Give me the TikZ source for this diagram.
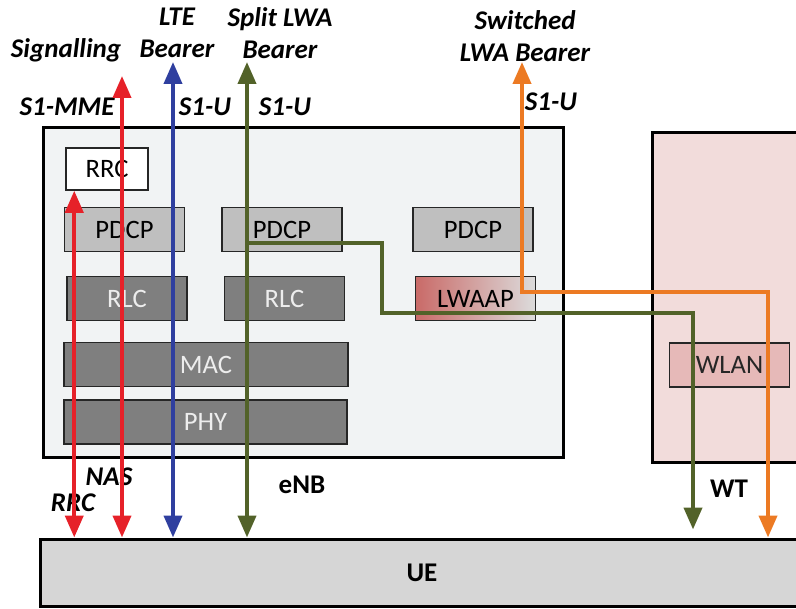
\documentclass[tikz,border=0pt]{standalone}
\usepackage{fontspec}
\setmainfont{Carlito}
\usetikzlibrary{arrows.meta,positioning}
\definecolor{sigred}{HTML}{E62129}
\definecolor{lteblue}{HTML}{2F3F9F}
\definecolor{lwagreen}{HTML}{526229}
\definecolor{lwaorange}{HTML}{EC7A23}
\definecolor{enbfill}{HTML}{F1F3F4}
\definecolor{wtfill}{HTML}{F2DCDB}
\definecolor{uefill}{HTML}{D6D6D6}
\definecolor{lightlayer}{HTML}{BFBFBF}
\definecolor{darklayer}{HTML}{7F7F7F}
\definecolor{wlanfill}{HTML}{E6B9B8}
\definecolor{lwaapred}{HTML}{C0504D}
\definecolor{boxline}{HTML}{262626}
\tikzset{
  >={Triangle[length=11pt,width=9pt]},
  flow/.style={line width=2pt},
  station/.style={draw=black,line width=1.5pt,inner sep=0pt},
  layer/.style={draw=boxline,line width=0.75pt,inner sep=0pt,
    minimum width=60pt,minimum height=22pt,font=\fontsize{13.3}{16}\selectfont},
  lightbox/.style={layer,fill=lightlayer,text=black},
  darkbox/.style={layer,fill=darklayer,text=white!93!black},
  bearer/.style={font=\fontsize{13.5}{16}\selectfont\bfseries\itshape,
    align=center,inner sep=0pt},
  stationlabel/.style={font=\fontsize{13.5}{16}\selectfont\bfseries,inner sep=0pt}
}
\begin{document}
\begin{tikzpicture}[x=0.5pt,y=-0.5pt]
  \useasboundingbox (0,0) rectangle (796,609);
  % network elements
  \node[station,fill=enbfill,minimum width=260pt,minimum height=164.5pt] (enb) at (303,292.5) {};
  \node[station,fill=wtfill,minimum width=84pt,minimum height=164.5pt] (wt) at (736,297.5) {};
  \node[station,fill=uefill,minimum width=382pt,minimum height=33.5pt,
    font=\fontsize{13.5}{16}\selectfont\bfseries] (ue) at (422,572.5) {UE};
  % protocol layers
  \node[layer,fill=white,minimum width=41pt,minimum height=21pt] (rrc) at (107,169) {RRC};
  \node[lightbox] (pdcpA) at (124.5,229.5) {PDCP};
  \node[lightbox] (pdcpB) at (282,229.5) {PDCP};
  \node[lightbox] (pdcpC) at (473,229.5) {PDCP};
  \node[darkbox] (rlcA) at (127,298.5) {RLC};
  \node[darkbox] (rlcB) at (284.5,298.5) {RLC};
  \node[layer,left color=lwaapred!85,right color=lightlayer!55] (lwaap) at (475.5,298.5) {LWAAP};
  \node[darkbox,minimum width=142pt] (mac) at (206,364.5) {MAC};
  \node[darkbox,minimum width=141.5pt] (phy) at (205.5,422) {PHY};
  \node[layer,fill=wlanfill,text=boxline] (wlan) at (729.5,365) {WLAN};
  % labels
  \node[bearer] (sig) at (66,50) {Signalling};
  \node[bearer] (lte) at (177,33) {LTE\\Bearer};
  \node[bearer] (split) at (280,33) {Split LWA\\Bearer};
  \node[bearer] (switched) at (525,36) {Switched\\LWA Bearer};
  \node[bearer] (mme) at (67,107) {S1-MME};
  \node[bearer] (s1lte) at (205,107) {S1-U};
  \node[bearer] (s1split) at (285,107) {S1-U};
  \node[bearer] (s1sw) at (551,102) {S1-U};
  \node[bearer] (nas) at (109,477) {NAS};
  \node[bearer] (rrclbl) at (73,503) {RRC};
  \node[stationlabel] (enblbl) at (302,485) {eNB};
  \node[stationlabel] (wtlbl) at (729,489) {WT};
  % bearers
  \coordinate (rrcsig) at ([xshift=4.5pt]rrc.south west);
  \coordinate (mmetop) at (122,76);
  \coordinate (ltetop) at (173,62);
  \coordinate (splittop) at (247,62);
  \coordinate (splitbr) at (247,243);
  \coordinate (splitbend) at (693,313);
  \coordinate (swtop) at (522,62);
  \coordinate (swbend) at (768,292);
  \draw[flow,sigred,<->] (rrcsig) -- (rrcsig |- ue.north);
  \draw[flow,sigred,<->] (mmetop) -- (mmetop |- ue.north);
  \draw[flow,lteblue,<->] (ltetop) -- (ltetop |- ue.north);
  \draw[flow,lwagreen,<->] (splittop) -- (splittop |- ue.north);
  \draw[flow,lwagreen,->] (splitbr) -| (382,313) -- (splitbend)
    -- ([yshift=4pt]splitbend |- ue.north);
  \draw[flow,lwaorange,<->] (swtop) |- (swbend) -- (swbend |- ue.north);
\end{tikzpicture}
\end{document}
